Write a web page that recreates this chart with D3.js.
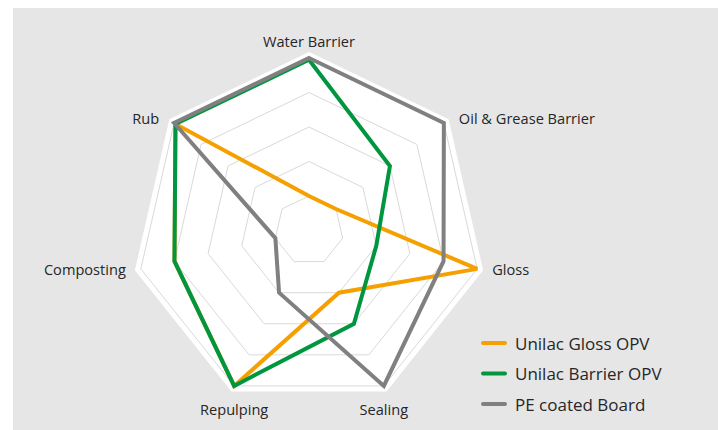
<!DOCTYPE html>
<html>
<head>
<meta charset="utf-8">
<script src="https://cdn.jsdelivr.net/npm/d3@7/dist/d3.min.js"></script>
<style>
  html, body { margin: 0; padding: 0; background: #ffffff; }
  svg { display: block; }
  text { font-family: "Open Sans", "Noto Sans", sans-serif; fill: #262626; }
</style>
</head>
<body>
<svg id="chart" width="718" height="430"></svg>
<script>
// ---- data ----
const categories = ["Water Barrier", "Oil & Grease Barrier", "Gloss", "Sealing", "Repulping", "Composting", "Rub"];
const seriesNames = ["Unilac Gloss OPV", "Unilac Barrier OPV", "PE coated Board"];
const glossOPV   = [1, 1, 5, 2, 5, 4, 4.95];
const barrierOPV = [4.95, 3, 2, 3, 5, 4, 4.95];
const peBoard    = [5, 5, 4, 5, 2, 1, 5];
const gridLevels = [1, 2, 3, 4, 5];

const seriesValues = [glossOPV, barrierOPV, peBoard];
const seriesColors = ["#f5a000", "#00963f", "#808080"];

// ---- layout ----
const W = 718, H = 430;
const cx = 309, cy = 230.5, R = 172.5;

const svg = d3.select("#chart");

// background panel
svg.append("rect").attr("x", 13).attr("y", 8).attr("width", W - 13).attr("height", H - 8)
  .attr("fill", "#e6e6e6");

const r = d3.scaleLinear().domain([0, 5]).range([0, R]);
const angle = d3.scaleLinear().domain([0, categories.length]).range([0, 2 * Math.PI]);

const pt = (i, v) => {
  const a = angle(i);
  return [cx + r(v) * Math.sin(a), cy - r(v) * Math.cos(a)];
};

const line = d3.lineRadial()
  .angle((d, i) => angle(i))
  .radius(d => r(d))
  .curve(d3.curveLinearClosed);

const g = svg.append("g").attr("transform", `translate(${cx},${cy})`);

// white plot area with a white band
const outer = categories.map(() => 5);
g.append("path")
  .attr("d", line(outer))
  .attr("fill", "#ffffff")
  .attr("stroke", "#ffffff")
  .attr("stroke-width", 11)
  .attr("stroke-linejoin", "miter");

// grid rings
g.selectAll("path.grid")
  .data(gridLevels)
  .join("path")
  .attr("class", "grid")
  .attr("d", lv => line(categories.map(() => lv)))
  .attr("fill", "none")
  .attr("stroke", "#d9d9d9")
  .attr("stroke-width", 1);

// series
g.selectAll("path.series")
  .data(seriesValues)
  .join("path")
  .attr("class", "series")
  .attr("d", d => line(d))
  .attr("fill", "none")
  .attr("stroke", (d, i) => seriesColors[i])
  .attr("stroke-width", 4)
  .attr("stroke-linejoin", "miter")
  .attr("stroke-miterlimit", 2);

// category labels
categories.forEach((c, i) => {
  const [vx, vy] = pt(i, 5);
  const a = angle(i);
  const s = Math.sin(a), co = Math.cos(a);
  let x = vx, y = vy, anchor = "middle";
  if (Math.abs(s) < 0.05) { y = vy - 17; }
  else if (co < -0.5) { y = vy + 23; }
  else {
    anchor = s > 0 ? "start" : "end";
    x = vx + (s > 0 ? 15 : -15);
    y = vy + (co > 0.3 ? -5 : 0);
  }
  svg.append("text")
    .attr("x", x).attr("y", y)
    .attr("text-anchor", anchor)
    .attr("dominant-baseline", "central")
    .style("font-size", "14.6px")
    .text(c);
});

// legend
const legend = svg.append("g").attr("transform", "translate(481,343)");
seriesNames.forEach((n, i) => {
  const row = legend.append("g").attr("transform", `translate(0,${i * 30.5})`);
  row.append("line").attr("x1", 2).attr("x2", 24).attr("y1", 0).attr("y2", 0)
    .attr("stroke", seriesColors[i]).attr("stroke-width", 4).attr("stroke-linecap", "round");
  row.append("text").attr("x", 34).attr("y", 0)
    .attr("dominant-baseline", "central")
    .style("font-size", "17px")
    .text(n);
});
</script>
</body>
</html>
